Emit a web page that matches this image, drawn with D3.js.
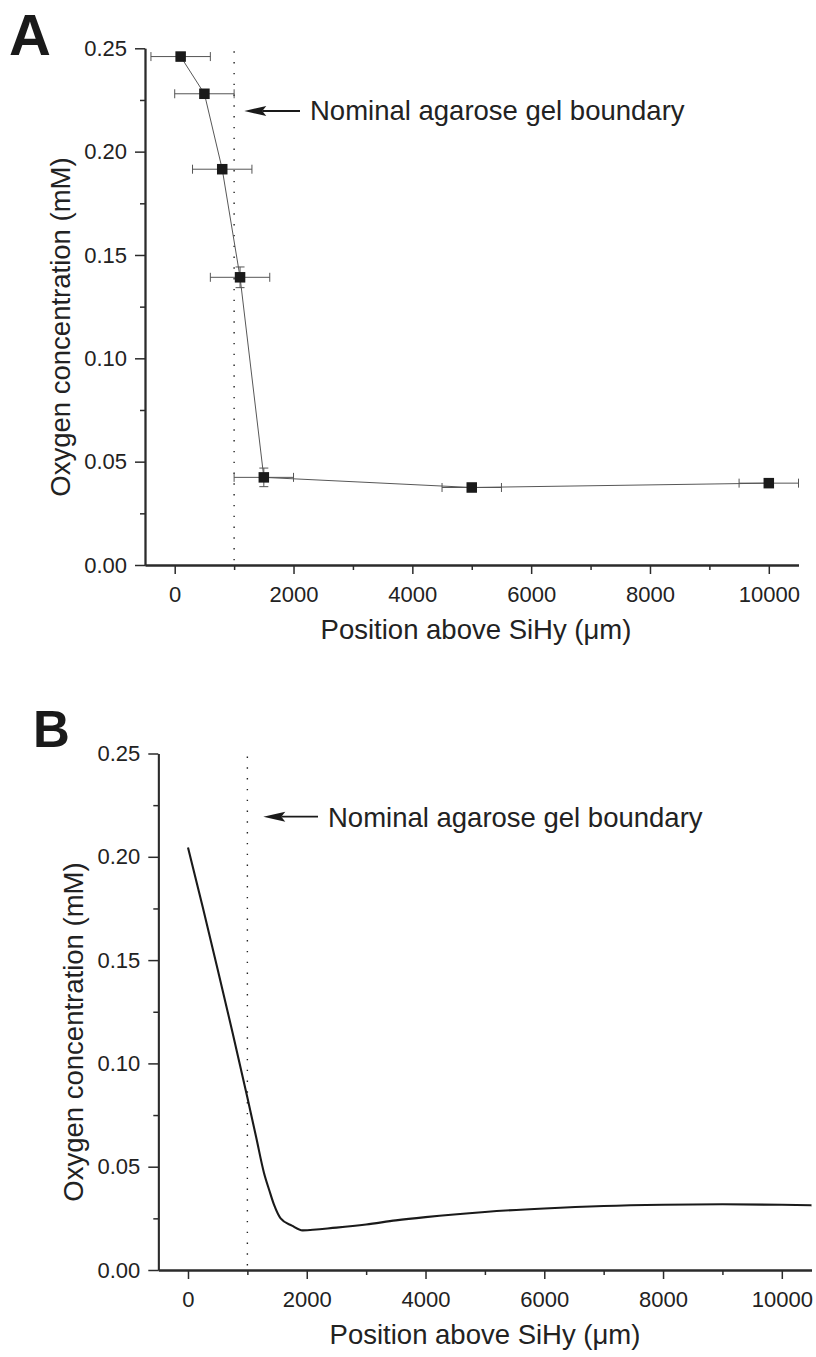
<!DOCTYPE html>
<html>
<head>
<meta charset="utf-8">
<script src="https://cdn.jsdelivr.net/npm/d3@7"></script>
<style>
  html, body { margin: 0; padding: 0; background: #fff; }
  svg { display: block; font-family: "Liberation Sans", Arial, Helvetica, sans-serif; }
</style>
</head>
<body>
<svg id="chart" width="816" height="1357"></svg>
<script>
// ---------- Panel A: measured data ----------
const posA   = [100, 500, 800, 1100, 1500, 5000, 10000];
const oxyA   = [0.246, 0.228, 0.1915, 0.1392, 0.0424, 0.0375, 0.0396];
const xErrA  = [500, 500, 500, 500, 500, 500, 500];
const yErrA  = [0.002, 0.002, 0.002, 0.005, 0.0045, 0.002, 0.002];

// ---------- Panel B: model curve ----------
const posB = [0, 250, 500, 750, 1000, 1150, 1280, 1370, 1450, 1560, 1750, 1930,
              2500, 3000, 3500, 4000, 5000, 6000, 7000, 8000, 9000, 10000, 10500];
const oxyB = [0.2045, 0.1755, 0.1455, 0.1150, 0.0835, 0.0640, 0.0470, 0.0385, 0.0315, 0.0250, 0.0215, 0.0192,
              0.0205, 0.0220, 0.0240, 0.0256, 0.0281, 0.0298, 0.0310, 0.0316, 0.0318, 0.0316, 0.0313];

// ---------- ticks / labels ----------
const xMajorTicks = [0, 2000, 4000, 6000, 8000, 10000];
const xMinorTicks = [1000, 3000, 5000, 7000, 9000];
const yMajorTicks = [0, 0.05, 0.10, 0.15, 0.20, 0.25];
const yMinorTicks = [0.025, 0.075, 0.125, 0.175, 0.225];
const xDomain = [-500, 10500];
const yDomain = [0, 0.25];
const boundaryPos = 1000;
const xTitle = "Position above SiHy (\u03BCm)";
const yTitle = "Oxygen concentration (mM)";
const annotationText = "Nominal agarose gel boundary";
const panelLetters = ["A", "B"];

const svg = d3.select("#chart");
const axisColor = "#2b2b2b";

function drawAxes(g, x, y, cfg) {
  const y0 = y.range()[0], x0 = x.range()[0];
  // x axis: minor ticks first, then major (separate groups)
  g.append("g").attr("transform", `translate(0,${y0})`)
    .call(d3.axisBottom(x).tickValues(xMinorTicks).tickFormat("")
      .tickSize(5).tickSizeOuter(0));
  g.append("g").attr("transform", `translate(0,${y0})`)
    .call(d3.axisBottom(x).tickValues(xMajorTicks).tickFormat(d => String(d))
      .tickSize(9).tickSizeOuter(0).tickPadding(12));
  // y axis
  g.append("g").attr("transform", `translate(${x0},0)`)
    .call(d3.axisLeft(y).tickValues(yMinorTicks).tickFormat("")
      .tickSize(5).tickSizeOuter(0));
  g.append("g").attr("transform", `translate(${x0},0)`)
    .call(d3.axisLeft(y).tickValues(yMajorTicks).tickFormat(d3.format(".2f"))
      .tickSize(10).tickSizeOuter(0).tickPadding(8));

  g.selectAll(".domain").attr("stroke", axisColor).attr("stroke-width", 1.8);
  g.selectAll(".tick line").attr("stroke", axisColor).attr("stroke-width", 1.5);
  g.selectAll(".tick text").attr("fill", "#222").attr("font-size", 22)
    .attr("font-family", "'Liberation Sans', Arial, sans-serif");

  // axis titles
  g.append("text")
    .attr("x", cfg.xTitleX).attr("y", cfg.xTitleY)
    .attr("text-anchor", "middle").attr("font-size", 27.5).attr("fill", "#222")
    .text(xTitle);
  g.append("text")
    .attr("transform", `translate(${cfg.yTitleX},${cfg.yTitleY}) rotate(-90)`)
    .attr("text-anchor", "middle").attr("font-size", 27.5).attr("fill", "#222")
    .text(yTitle);

  // panel letter
  g.append("text")
    .attr("x", cfg.letterX).attr("y", cfg.letterY)
    .attr("font-size", cfg.letterSize).attr("font-weight", "bold").attr("fill", "#1a1a1a")
    .text(cfg.letter);

  // boundary dotted line
  g.append("line")
    .attr("x1", x(boundaryPos)).attr("x2", x(boundaryPos))
    .attr("y1", y(yDomain[1]) + 3).attr("y2", y(0) - 2)
    .attr("stroke", "#222").attr("stroke-width", 1.4)
    .attr("stroke-dasharray", "1.4,9.4");

  // annotation arrow + text
  g.append("line")
    .attr("x1", cfg.arrowTail).attr("x2", cfg.arrowTip + 18)
    .attr("y1", cfg.arrowY).attr("y2", cfg.arrowY)
    .attr("stroke", "#1a1a1a").attr("stroke-width", 1.8);
  g.append("path")
    .attr("d", `M${cfg.arrowTip},${cfg.arrowY} L${cfg.arrowTip + 22},${cfg.arrowY - 5} L${cfg.arrowTip + 18},${cfg.arrowY} L${cfg.arrowTip + 22},${cfg.arrowY + 5} Z`)
    .attr("fill", "#1a1a1a");
  g.append("text")
    .attr("x", cfg.textX).attr("y", cfg.textY)
    .attr("font-size", 27.5).attr("fill", "#222")
    .text(annotationText);
}

// ---------- Panel A ----------
{
  const x = d3.scaleLinear().domain(xDomain).range([145, 798.5]);
  const y = d3.scaleLinear().domain(yDomain).range([565, 48.3]);
  const g = svg.append("g");
  drawAxes(g, x, y, {
    xTitleX: 476, xTitleY: 639, yTitleX: 70, yTitleY: 327,
    letter: panelLetters[0], letterX: 9, letterY: 55, letterSize: 58,
    arrowTip: 244.3, arrowTail: 300, arrowY: 111, textX: 310, textY: 120
  });

  const pts = posA.map((p, i) => ({x: p, y: oxyA[i], ex: xErrA[i], ey: yErrA[i]}));
  g.append("path")
    .datum(pts)
    .attr("fill", "none").attr("stroke", "#444").attr("stroke-width", 0.9)
    .attr("d", d3.line().x(d => x(d.x)).y(d => y(d.y)));

  const eb = g.append("g").attr("stroke", "#555").attr("stroke-width", 1);
  pts.forEach(d => {
    const cx = x(d.x), cy = y(d.y);
    const xl = x(d.x - d.ex), xr = x(d.x + d.ex);
    const yl = y(d.y - d.ey), yh = y(d.y + d.ey);
    eb.append("line").attr("x1", xl).attr("x2", xr).attr("y1", cy).attr("y2", cy);
    eb.append("line").attr("x1", xl).attr("x2", xl).attr("y1", cy - 4.5).attr("y2", cy + 4.5);
    eb.append("line").attr("x1", xr).attr("x2", xr).attr("y1", cy - 4.5).attr("y2", cy + 4.5);
    eb.append("line").attr("x1", cx).attr("x2", cx).attr("y1", yl).attr("y2", yh);
    eb.append("line").attr("x1", cx - 4.5).attr("x2", cx + 4.5).attr("y1", yl).attr("y2", yl);
    eb.append("line").attr("x1", cx - 4.5).attr("x2", cx + 4.5).attr("y1", yh).attr("y2", yh);
  });

  const s = 10.5;
  g.selectAll("rect.marker").data(pts).enter().append("rect")
    .attr("class", "marker")
    .attr("x", d => x(d.x) - s / 2).attr("y", d => y(d.y) - s / 2)
    .attr("width", s).attr("height", s)
    .attr("fill", "#1a1a1a");
}

// ---------- Panel B ----------
{
  const x = d3.scaleLinear().domain(xDomain).range([158.3, 811.5]);
  const y = d3.scaleLinear().domain(yDomain).range([1270, 753.5]);
  const g = svg.append("g");
  drawAxes(g, x, y, {
    xTitleX: 485, xTitleY: 1344, yTitleX: 83, yTitleY: 1032,
    letter: panelLetters[1], letterX: 33, letterY: 747, letterSize: 51,
    arrowTip: 263.3, arrowTail: 318, arrowY: 816.7, textX: 328, textY: 826.7
  });

  const pts = posB.map((p, i) => ({x: p, y: oxyB[i]}));
  g.append("path")
    .datum(pts)
    .attr("fill", "none").attr("stroke", "#1a1a1a").attr("stroke-width", 2.1)
    .attr("stroke-linejoin", "round")
    .attr("d", d3.line().x(d => x(d.x)).y(d => y(d.y)).curve(d3.curveMonotoneX));
}
</script>
</body>
</html>
